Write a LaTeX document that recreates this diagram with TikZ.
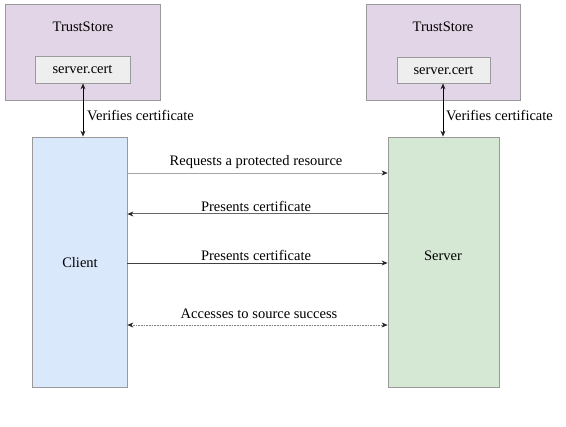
\documentclass[tikz,border=0pt]{standalone}
\usepackage{fontspec}
\setmainfont{Liberation Serif}
\usetikzlibrary{arrows.meta,calc}
\definecolor{tsfill}{HTML}{E1D5E7}
\definecolor{clfill}{HTML}{DAE8FC}
\definecolor{svfill}{HTML}{D5E8D4}
\definecolor{certfill}{HTML}{EEEEEE}
\definecolor{bordergray}{HTML}{9A9A9A}
\tikzset{
  box/.style={draw=bordergray, line width=0.8pt, rectangle, inner sep=0pt},
  txt/.style={font=\fontsize{14.5}{17}\selectfont, text=black, inner sep=0pt},
  tip/.style={-{Stealth[length=6pt,width=5pt,color=black!85]}},
  bitip/.style={{Stealth[length=6pt,width=5pt,color=black!85]}-{Stealth[length=6pt,width=5pt,color=black!85]}},
}
\begin{document}
\begin{tikzpicture}[x=1pt,y=-1pt]
\useasboundingbox[fill=white] (0,0) rectangle (566,427);
% trust stores
\node[box, fill=tsfill, minimum width=155pt, minimum height=96pt] (ts1) at (82.5,52) {};
\node[txt] (ts1t) at (83,27) {TrustStore};
\node[box, fill=certfill, minimum width=95pt, minimum height=27pt] (cert1) at (82.5,69.5) {};
\node[txt] (cert1t) at (82.5,70) {server.cert};
\node[box, fill=tsfill, minimum width=154pt, minimum height=96pt] (ts2) at (443,52) {};
\node[txt] (ts2t) at (443,27) {TrustStore};
\node[box, fill=certfill, minimum width=93pt, minimum height=26pt] (cert2) at (443.5,70) {};
\node[txt] (cert2t) at (443.5,70.5) {server.cert};
% client and server
\node[box, fill=clfill, minimum width=95pt, minimum height=250pt] (client) at (79.5,262) {};
\node[txt] (clientt) at (80,263) {Client};
\node[box, fill=svfill, minimum width=111pt, minimum height=250pt] (server) at (443.5,262) {};
\node[txt] (servert) at (443,256) {Server};
% verify arrows
\draw[bitip, line width=0.7pt, black] (cert1.south -| 83,0) -- (client.north -| 83,0);
\node[txt, anchor=west] (v1) at (87,116) {Verifies certificate};
\draw[bitip, line width=0.7pt, black] (cert2.south -| 443,0) -- (server.north -| 443,0);
\node[txt, anchor=west] (v2) at (446,116) {Verifies certificate};
% messages
\draw[tip, line width=0.5pt, draw=gray!70] (client.east |- 0,173) -- (server.west |- 0,173);
\node[txt] (m1) at (256,162) {Requests a protected resource};
\draw[tip, line width=1pt, draw=gray!80!black] (server.west |- 0,214) -- (client.east |- 0,214);
\node[txt] (m2) at (256,206) {Presents certificate};
\draw[tip, line width=0.9pt, draw=black!75] (client.east |- 0,263) -- (server.west |- 0,263);
\node[txt] (m3) at (256,255) {Presents certificate};
\draw[bitip, line width=0.6pt, draw=gray, dash pattern=on 1pt off 0.6pt] (client.east |- 0,325) -- (server.west |- 0,325);
\node[txt] (m4) at (259,314) {Accesses to source success};
\end{tikzpicture}
\end{document}
